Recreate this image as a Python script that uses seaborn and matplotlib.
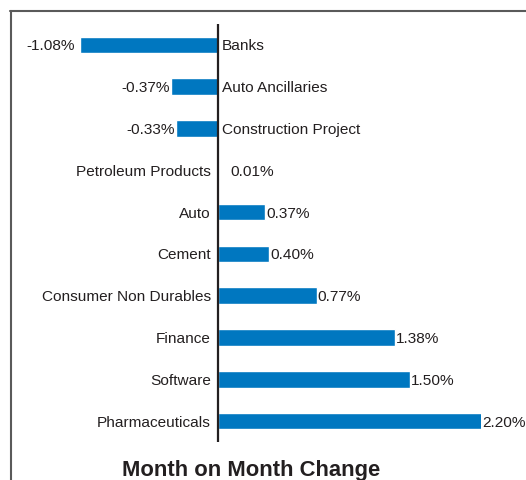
import matplotlib
matplotlib.use("Agg")
import matplotlib.pyplot as plt
from matplotlib.lines import Line2D
import seaborn as sns
import pandas as pd

categories = ["Banks", "Auto Ancillaries", "Construction Project", "Petroleum Products",
              "Auto", "Cement", "Consumer Non Durables", "Finance", "Software", "Pharmaceuticals"]
values = [-1.08, -0.37, -0.33, 0.01, 0.37, 0.40, 0.77, 1.38, 1.50, 2.20]
value_labels = ["-1.08%", "-0.37%", "-0.33%", "0.01%", "0.37%", "0.40%", "0.77%", "1.38%", "1.50%", "2.20%"]
title = "Month on Month Change"

sns.set_theme(style="white")
plt.rcParams['font.family'] = ['Liberation Sans', 'DejaVu Sans']

BAR = "#0077C0"
TXT = "#231F20"
DPI = 100
W, H = 526, 480
fig = plt.figure(figsize=(W / DPI, H / DPI), dpi=DPI)

xmin, xmax = -1.5, 2.055
ax_left_px, ax_right_px = 26, 481
ax_top_px, ax_bot_px = 24, 442
ax = fig.add_axes([ax_left_px / W, 1 - ax_bot_px / H,
                   (ax_right_px - ax_left_px) / W, (ax_bot_px - ax_top_px) / H])

df = pd.DataFrame({"category": categories, "value": values})
sns.barplot(data=df, x="value", y="category", orient="h", color=BAR,
            saturation=1, width=0.4, ax=ax, zorder=2)
ax.set_xlim(xmin, xmax)
ax.set_ylim(9.5, -0.5)
for s in ax.spines.values():
    s.set_visible(False)
ax.set_xticks([])
ax.set_yticks([])
ax.set_xlabel("")
ax.set_ylabel("")
ax.axvline(0, color=TXT, lw=1.6, zorder=3)

fs = 11.1
px = 0.72  # points per pixel
dy = -1.5 * px
for i, (c, v, lab) in enumerate(zip(categories, values, value_labels)):
    if v < 0:
        ax.annotate(c, (0, i), xytext=(4 * px, dy), textcoords="offset points",
                    ha="left", va="center", fontsize=fs, color=TXT)
        off = -5 if i == 0 else -1
        ax.annotate(lab, (v, i), xytext=(off * px, dy), textcoords="offset points",
                    ha="right", va="center", fontsize=fs, color=TXT)
    else:
        ax.annotate(c, (0, i), xytext=(-7 * px, dy), textcoords="offset points",
                    ha="right", va="center", fontsize=fs, color=TXT)
        xv = min(v, xmax)
        off = 11 if v < 0.05 else 1
        ax.annotate(lab, (xv, i), xytext=(off * px, dy), textcoords="offset points",
                    ha="left", va="center", fontsize=fs, color=TXT, annotation_clip=False)

fig.text(251 / W, 1 - 476 / H, title, ha="center", va="baseline",
         fontsize=15.8, fontweight="bold", color=TXT)

# outer frame (top and left edges visible)
fig.add_artist(Line2D([10 / W, 1.0], [1 - 11 / H, 1 - 11 / H], transform=fig.transFigure,
                      color="#5a5a5a", lw=1.5))
fig.add_artist(Line2D([11 / W, 11 / W], [1 - 11 / H, 0], transform=fig.transFigure,
                      color="#5a5a5a", lw=1.5))

fig.savefig("out.png", dpi=DPI)
